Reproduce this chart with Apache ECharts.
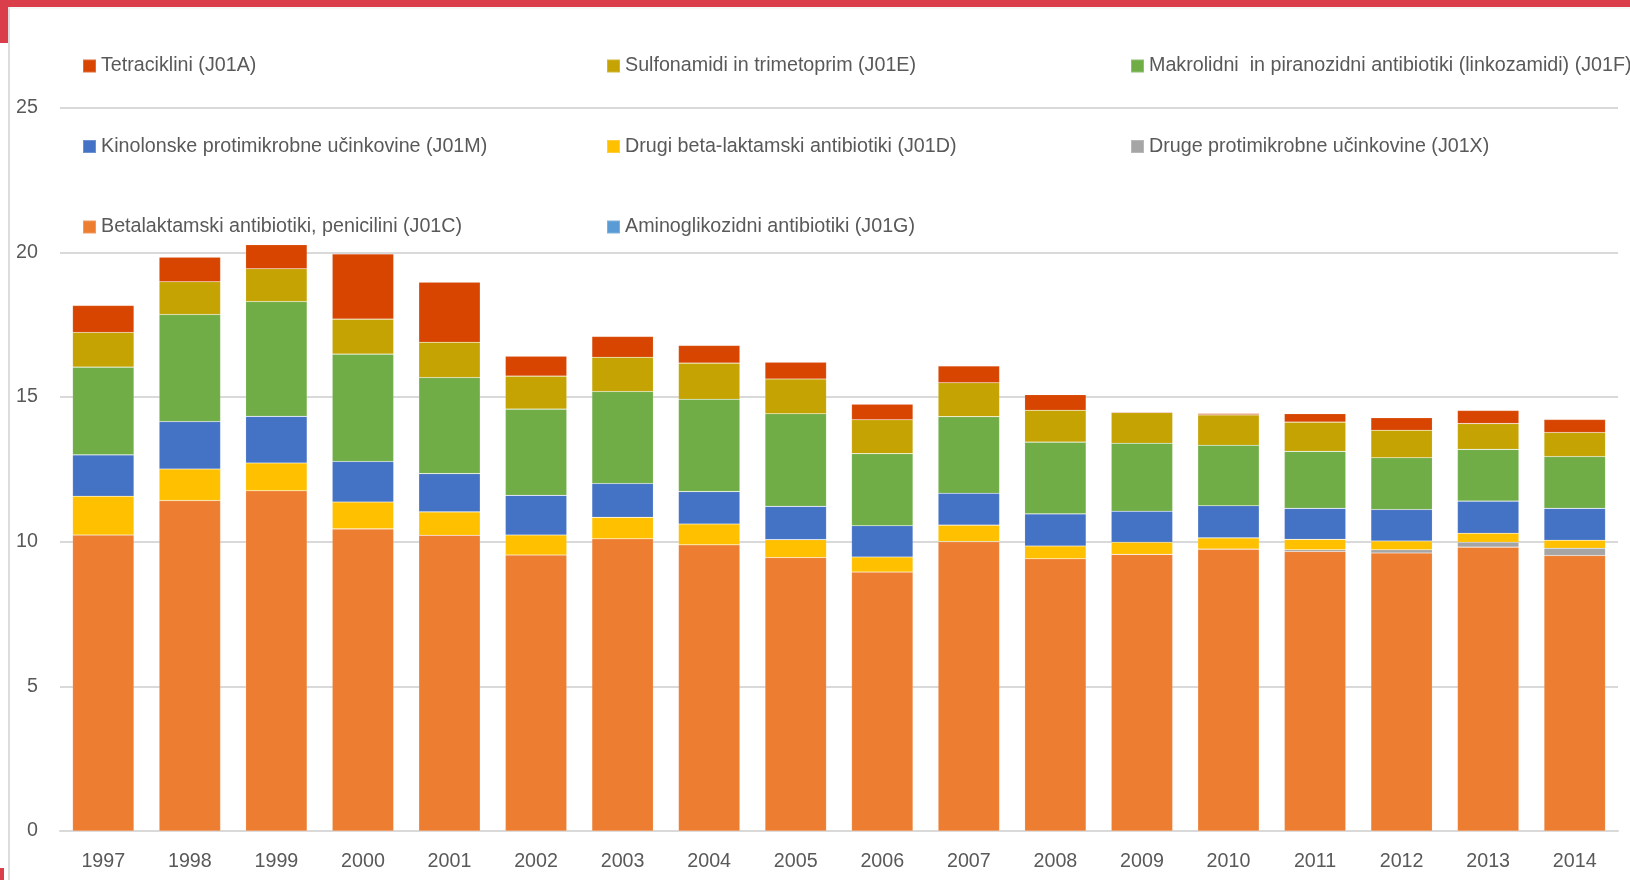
<!DOCTYPE html>
<html>
<head>
<meta charset="utf-8">
<script src="https://cdn.jsdelivr.net/npm/echarts@6/dist/echarts.min.js"></script>
<style>
  html, body { margin: 0; padding: 0; background: #ffffff; }
  #chart { width: 1630px; height: 880px; }
</style>
</head>
<body>
<div id="chart"></div>
<script>
// ---- Data ----
const years = ['1997','1998','1999','2000','2001','2002','2003','2004','2005','2006','2007','2008','2009','2010','2011','2012','2013','2014'];
const yTicks = [0, 5, 10, 15, 20, 25];

const nameA = 'Tetraciklini (J01A)';
const nameE = 'Sulfonamidi in trimetoprim (J01E)';
const nameF = 'Makrolidni  in piranozidni antibiotiki (linkozamidi) (J01F)';
const nameM = 'Kinolonske protimikrobne učinkovine (J01M)';
const nameD = 'Drugi beta-laktamski antibiotiki (J01D)';
const nameX = 'Druge protimikrobne učinkovine (J01X)';
const nameC = 'Betalaktamski antibiotiki, penicilini (J01C)';
const nameG = 'Aminoglikozidni antibiotiki (J01G)';

const valuesG = [0, 0, 0, 0, 0, 0, 0, 0, 0, 0, 0, 0, 0, 0, 0, 0, 0, 0];
const valuesC = [10.23, 11.42, 11.76, 10.44, 10.22, 9.54, 10.10, 9.89, 9.45, 8.95, 10.00, 9.41, 9.56, 9.74, 9.66, 9.61, 9.81, 9.52];
const valuesX = [0, 0, 0, 0, 0, 0, 0, 0, 0, 0, 0, 0, 0, 0, 0.06, 0.11, 0.17, 0.25];
const valuesD = [1.34, 1.09, 0.96, 0.93, 0.81, 0.69, 0.74, 0.72, 0.62, 0.52, 0.57, 0.44, 0.42, 0.39, 0.36, 0.30, 0.31, 0.28];
const valuesM = [1.43, 1.64, 1.61, 1.40, 1.32, 1.37, 1.17, 1.12, 1.15, 1.08, 1.10, 1.11, 1.07, 1.11, 1.07, 1.09, 1.11, 1.10];
const valuesF = [3.03, 3.70, 3.97, 3.71, 3.32, 2.98, 3.18, 3.19, 3.20, 2.49, 2.65, 2.48, 2.35, 2.09, 1.97, 1.79, 1.79, 1.79];
const valuesE = [1.20, 1.13, 1.13, 1.21, 1.22, 1.14, 1.18, 1.25, 1.20, 1.17, 1.17, 1.10, 1.06, 1.05, 1.01, 0.95, 0.89, 0.83];
const valuesA = [0.93, 0.85, 0.83, 2.25, 2.08, 0.69, 0.72, 0.61, 0.58, 0.54, 0.58, 0.54, 0.03, 0.05, 0.29, 0.43, 0.45, 0.45];

// ---- Styles ----
const FONT = "'Liberation Sans', Arial, sans-serif";
const FS = 19.7;
const TEXT = '#595959';
const GRID = '#D9D9D9';
const colors = {
  A: '#D74500', E: '#C4A302', F: '#70AD47', M: '#4472C4',
  D: '#FFC000', X: '#A5A5A5', C: '#ED7D31', G: '#5B9BD5'
};

function barSeries(name, data, color) {
  return {
    name: name,
    type: 'bar',
    stack: 'total',
    data: data,
    barCategoryGap: '29%',
    itemStyle: { color: color, borderColor: 'rgba(255,255,255,0.22)', borderWidth: 0.6 },
    emphasis: { disabled: true }
  };
}

const legendCommon = {
  orient: 'vertical',
  icon: 'rect',
  itemWidth: 13,
  itemHeight: 13,
  itemGap: 56.5,
  top: 54,
  padding: 0,
  selectedMode: false,
  textStyle: { fontFamily: FONT, fontSize: FS, color: TEXT, lineHeight: 24 }
};

const chart = echarts.init(document.getElementById('chart'), null, { renderer: 'canvas' });
chart.setOption({
  animation: false,
  backgroundColor: '#ffffff',
  graphic: [
    { type: 'rect', shape: { x: 0, y: 0, width: 1630, height: 7 }, style: { fill: '#DA3E4B' }, z: 100 },
    { type: 'rect', shape: { x: 0, y: 0, width: 8, height: 43 }, style: { fill: '#DA3E4B' }, z: 100 },
    { type: 'rect', shape: { x: 0, y: 868, width: 4, height: 12 }, style: { fill: '#DA3E4B' }, z: 100 },
    { type: 'line', shape: { x1: 9, y1: 7, x2: 9, y2: 880 }, style: { stroke: '#DDDDDD', lineWidth: 2 }, z: 100 },
    { type: 'line', shape: { x1: 8, y1: 8, x2: 1630, y2: 8 }, style: { stroke: '#EEEEEE', lineWidth: 1 }, z: 100 }
  ],
  legend: [
    Object.assign({}, legendCommon, { left: 82, data: [nameA, nameM, nameC] }),
    Object.assign({}, legendCommon, { left: 606, data: [nameE, nameD, nameG] }),
    Object.assign({}, legendCommon, { left: 1130, data: [nameF, nameX] })
  ],
  grid: { left: 60, right: 12, top: 107.6, bottom: 49, containLabel: false },
  xAxis: {
    type: 'category',
    data: years,
    axisTick: { show: false },
    axisLine: { show: true, lineStyle: { color: GRID, width: 2 } },
    axisLabel: { fontFamily: FONT, fontSize: FS, color: TEXT, margin: 21, interval: 0 }
  },
  yAxis: {
    type: 'value',
    min: yTicks[0],
    max: yTicks[yTicks.length - 1],
    interval: yTicks[1] - yTicks[0],
    axisLine: { show: false },
    axisTick: { show: false },
    splitLine: { show: true, lineStyle: { color: GRID, width: 2 } },
    axisLabel: { fontFamily: FONT, fontSize: FS, color: TEXT, margin: 22 }
  },
  series: [
    barSeries(nameG, valuesG, colors.G),
    barSeries(nameC, valuesC, colors.C),
    barSeries(nameX, valuesX, colors.X),
    barSeries(nameD, valuesD, colors.D),
    barSeries(nameM, valuesM, colors.M),
    barSeries(nameF, valuesF, colors.F),
    barSeries(nameE, valuesE, colors.E),
    barSeries(nameA, valuesA, colors.A)
  ]
});
</script>
</body>
</html>
